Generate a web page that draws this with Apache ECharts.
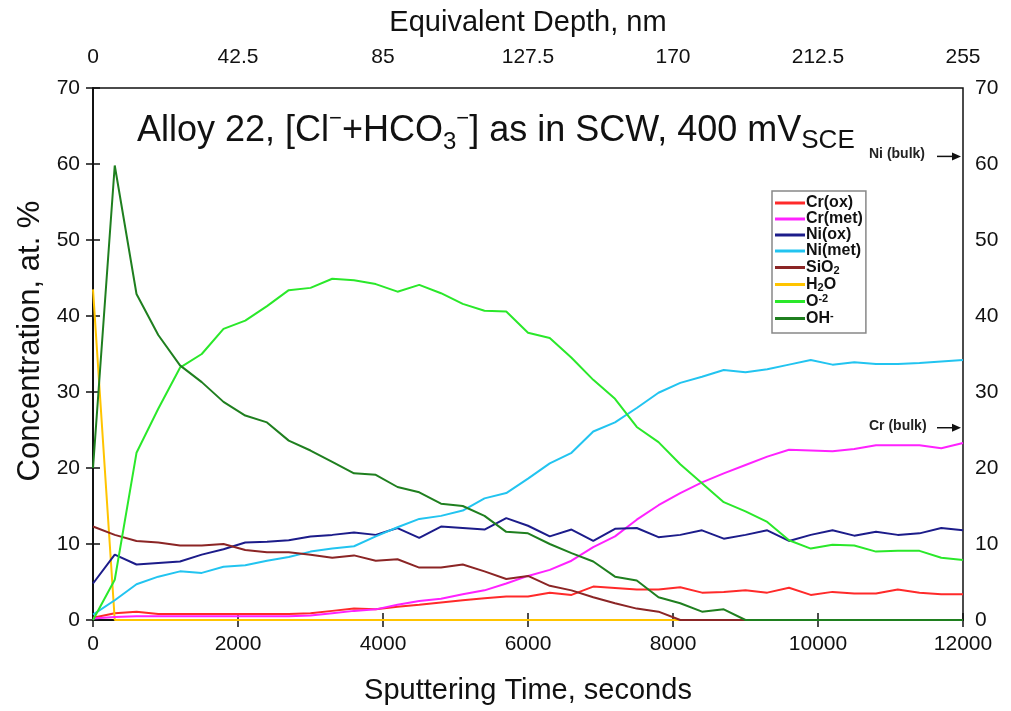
<!DOCTYPE html>
<html><head><meta charset="utf-8">
<script src="https://cdn.jsdelivr.net/npm/echarts@6/dist/echarts.min.js"></script>
<style>html,body{margin:0;padding:0;background:#fff}#c{width:1011px;height:711px}</style>
</head><body><div id="c"></div>
<script>
// Sputtering time (s)
const times = [0,300,600,900,1200,1500,1800,2100,2400,2700,3000,3300,3600,3900,4200,4500,4800,5100,5400,5700,6000,6300,6600,6900,7200,7500,7800,8100,8400,8700,9000,9300,9600,9900,10200,10500,10800,11100,11400,11700,12000];
const seriesNames = ['Cr(ox)','Cr(met)','Ni(ox)','Ni(met)','SiO2','H2O','O-2','OH-'];
const crOx  = [0.3,0.9,1.1,0.8,0.8,0.8,0.8,0.8,0.8,0.8,0.9,1.2,1.5,1.4,1.75,2.0,2.3,2.6,2.85,3.1,3.1,3.6,3.3,4.4,4.2,4.0,4.0,4.3,3.6,3.7,3.9,3.6,4.25,3.3,3.7,3.5,3.5,4.0,3.6,3.4,3.4];
const crMet = [0.2,0.4,0.5,0.5,0.5,0.5,0.5,0.5,0.5,0.5,0.6,0.9,1.2,1.4,2.0,2.5,2.8,3.4,3.9,4.8,5.8,6.6,7.8,9.6,11.0,13.2,15.1,16.7,18.1,19.3,20.4,21.5,22.4,22.3,22.2,22.5,23.0,23.0,23.0,22.6,23.3];
const niOx  = [4.8,8.6,7.3,7.5,7.7,8.6,9.3,10.2,10.3,10.5,11.0,11.2,11.5,11.2,12.1,10.8,12.3,12.1,11.9,13.4,12.4,11.0,11.9,10.4,12.0,12.1,10.9,11.2,11.8,10.7,11.2,11.8,10.4,11.2,11.8,11.1,11.6,11.2,11.4,12.1,11.8];
const niMet = [0.7,2.6,4.7,5.7,6.4,6.2,7.0,7.2,7.8,8.3,9.0,9.4,9.7,11.0,12.2,13.3,13.7,14.4,16.0,16.7,18.6,20.6,22.0,24.8,26.0,27.9,29.9,31.2,32.0,32.9,32.6,33.0,33.6,34.2,33.6,33.9,33.7,33.7,33.8,34.0,34.2];
const sio2  = [12.3,11.2,10.4,10.2,9.8,9.8,10.0,9.2,8.9,8.9,8.6,8.2,8.5,7.8,8.0,6.9,6.9,7.3,6.4,5.4,5.8,4.5,3.9,3.0,2.2,1.5,1.1,0,0,0,0,0,0,0,0,0,0,0,0,0,0];
const h2o   = [43.5,0,0,0,0,0,0,0,0,0,0,0,0,0,0,0,0,0,0,0,0,0,0,0,0,0,0,0,0,0,0,0,0,0,0,0,0,0,0,0,0];
const o2    = [0,5.3,22.0,27.8,33.2,35.0,38.3,39.4,41.3,43.4,43.7,44.9,44.7,44.2,43.2,44.1,43.0,41.6,40.7,40.6,37.8,37.1,34.5,31.6,29.1,25.4,23.4,20.5,18.0,15.5,14.3,12.9,10.5,9.4,9.9,9.8,9.0,9.1,9.1,8.2,7.9];
const oh    = [20.0,59.8,42.9,37.5,33.5,31.3,28.7,26.9,26.0,23.6,22.3,20.8,19.3,19.1,17.5,16.8,15.3,15.0,13.7,11.6,11.4,10.0,8.8,7.7,5.7,5.2,3.0,2.2,1.1,1.4,0,0,0,0,0,0,0,0,0,0,0];
const values = [crOx, crMet, niOx, niMet, sio2, h2o, o2, oh];
const colors = ['#ff2a2a','#ff22ff','#1c1c8a','#22c4f0','#8b2525','#ffc400','#2ae82a','#1f7f1f'];
// Axis tick labels
const yTicks = [0,10,20,30,40,50,60,70];
const xTicks = [0,2000,4000,6000,8000,10000,12000];
const depthTicks = ['0','42.5','85','127.5','170','212.5','255'];
// Bulk reference markers (right side)
const bulkLabels = ['Ni (bulk)','Cr (bulk)'];
const bulkValues = [61.0, 25.3];

const legendRich = {
  'SiO2': '{n|SiO}{sb|2}', 'H2O': '{n|H}{sb|2}{n|O}', 'O-2': '{n|O}{sp|-2}', 'OH-': '{n|OH}{sp|-}'
};

const chart = echarts.init(document.getElementById('c'));
const FONT = 'Liberation Sans, Arial, sans-serif';
const axisCommon = {
  axisLine: {show: true, lineStyle: {color: '#111', width: 1.5}},
  axisTick: {show: true, inside: true, length: 7, lineStyle: {color: '#111', width: 1.5}},
  splitLine: {show: false},
  axisLabel: {color: '#111', fontSize: 21, fontFamily: FONT}
};
const nameStyle = {fontSize: 29, color: '#111', fontFamily: FONT};
chart.setOption({
  animation: false,
  backgroundColor: '#fff',
  grid: {left: 93, right: 48, top: 88, bottom: 91, show: true, borderColor: '#111', borderWidth: 1.5},
  xAxis: [
    Object.assign({}, axisCommon, {type: 'value', min: xTicks[0], max: xTicks[xTicks.length-1], interval: 2000,
      position: 'bottom', name: 'Sputtering Time, seconds', nameLocation: 'middle', nameGap: 56,
      nameTextStyle: nameStyle,
      axisLabel: Object.assign({}, axisCommon.axisLabel, {margin: 14, formatter: function(v){ return String(v); }})}),
    Object.assign({}, axisCommon, {type: 'value', min: 0, max: 255, interval: 42.5, position: 'top',
      name: 'Equivalent Depth, nm', nameLocation: 'middle', nameGap: 51,
      nameTextStyle: nameStyle,
      axisLabel: Object.assign({}, axisCommon.axisLabel, {margin: 20,
        formatter: function(v){ const i = Math.round(v/42.5); return depthTicks[i] !== undefined ? depthTicks[i] : ''; }})})
  ],
  yAxis: [
    Object.assign({}, axisCommon, {type: 'value', min: yTicks[0], max: yTicks[yTicks.length-1], interval: 10, position: 'left',
      name: 'Concentration, at. %', nameLocation: 'middle', nameGap: 46,
      nameTextStyle: Object.assign({}, nameStyle, {fontSize: 31, padding: [0, 0, 0, 26]}),
      axisLabel: Object.assign({}, axisCommon.axisLabel, {margin: 13})}),
    Object.assign({}, axisCommon, {type: 'value', min: yTicks[0], max: yTicks[yTicks.length-1], interval: 10, position: 'right',
      axisLabel: Object.assign({}, axisCommon.axisLabel, {margin: 12})})
  ],
  legend: {
    orient: 'vertical', left: 772, top: 191, width: 97,
    backgroundColor: '#fff', borderColor: '#888', borderWidth: 1.5, padding: [4, 3, 6, 3],
    itemWidth: 30, itemHeight: 3, itemGap: 0, icon: 'rect',
    data: seriesNames,
    formatter: function(n){ return legendRich[n] || ('{n|' + n + '}'); },
    textStyle: {
      fontFamily: FONT, fontWeight: 'bold', fontSize: 16, color: '#111', padding: [0,0,0,-4],
      rich: {
        n: {fontFamily: FONT, fontWeight: 'bold', fontSize: 16, color: '#111', lineHeight: 17},
        sb: {fontFamily: FONT, fontWeight: 'bold', fontSize: 11, color: '#111', verticalAlign: 'bottom', lineHeight: 17, padding: [6,0,0,0]},
        sp: {fontFamily: FONT, fontWeight: 'bold', fontSize: 11, color: '#111', verticalAlign: 'top', lineHeight: 17, padding: [0,0,6,0]}
      }
    }
  },
  series: seriesNames.map(function(name, k){
    return {
      name: name, type: 'line', xAxisIndex: 0, yAxisIndex: 0,
      data: times.map(function(t, i){ return [t, values[k][i]]; }),
      showSymbol: false, symbol: 'none', color: colors[k],
      lineStyle: {width: 2, color: colors[k]}, z: 2 + (k === 5 ? 0 : k)
    };
  })
});

function drawAnnotations(){
  const g = [];
  bulkValues.forEach(function(v, i){
    const p = chart.convertToPixel({xAxisIndex: 0, yAxisIndex: 0}, [xTicks[xTicks.length-1], v]);
    g.push({type: 'text', left: p[0] - 94, top: p[1] - 9,
      style: {text: bulkLabels[i], fontFamily: FONT, fontWeight: 'bold', fontSize: 14, fill: '#222', align: 'left'}});
    g.push({type: 'line', shape: {x1: p[0] - 26, y1: p[1], x2: p[0] - 6, y2: p[1]}, style: {stroke: '#111', lineWidth: 1.5}});
    g.push({type: 'polygon', shape: {points: [[p[0]-2, p[1]], [p[0]-11, p[1]-4], [p[0]-11, p[1]+4]]}, style: {fill: '#111'}});
  });
  g.push({type: 'text', left: 137, top: 108,
    style: {
      text: '{n|Alloy 22, [Cl}{sp|\u2212}{n|+HCO}{sb|3}{sp|\u2212}{n|] as in SCW, 400 mV}{sc|SCE}',
      rich: {
        n: {fontFamily: FONT, fontSize: 36, fill: '#111', lineHeight: 46},
        sp: {fontFamily: FONT, fontSize: 22, fill: '#111', verticalAlign: 'top', lineHeight: 46, padding: [0,0,16,0]},
        sb: {fontFamily: FONT, fontSize: 24, fill: '#111', verticalAlign: 'bottom', lineHeight: 46, padding: [14,0,0,0]},
        sc: {fontFamily: FONT, fontSize: 26, fill: '#111', verticalAlign: 'bottom', lineHeight: 46, padding: [12,0,0,0]}
      }
    }});
  chart.setOption({graphic: g});
}
drawAnnotations();
</script></body></html>
